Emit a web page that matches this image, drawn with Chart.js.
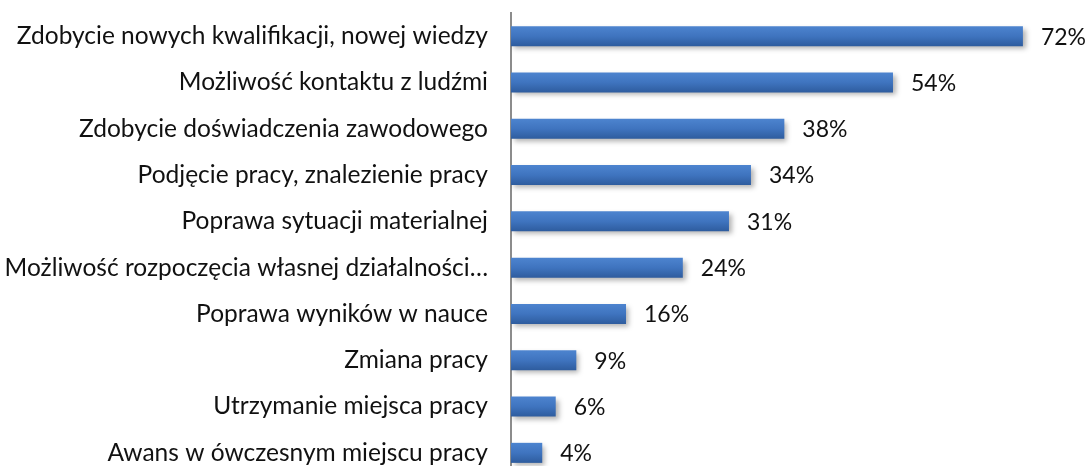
<!DOCTYPE html>
<html><head><meta charset="utf-8">
<script src="https://cdn.jsdelivr.net/npm/chart.js@4/dist/chart.umd.min.js"></script>
<style>
html,body{margin:0;padding:0;background:#fff;overflow:hidden;}
#wrap{width:1088px;height:466px;overflow:hidden;position:relative;}
#c{display:block;}
</style></head>
<body><div id="wrap"><canvas id="c" width="1088" height="476"></canvas></div>
<script>
const categories = [
  "Zdobycie nowych kwalifikacji, nowej wiedzy",
  "Możliwość kontaktu z ludźmi",
  "Zdobycie doświadczenia zawodowego",
  "Podjęcie pracy, znalezienie pracy",
  "Poprawa sytuacji materialnej",
  "Możliwość rozpoczęcia własnej działalności…",
  "Poprawa wyników w nauce",
  "Zmiana pracy",
  "Utrzymanie miejsca pracy",
  "Awans w ówczesnym miejscu pracy"
];
const values = [72.1, 53.8, 38.5, 33.8, 30.7, 24.2, 16.2, 9.2, 6.3, 4.4];
const valueLabels = ["72%", "54%", "38%", "34%", "31%", "24%", "16%", "9%", "6%", "4%"];

const FONT = "Lato, 'Open Sans', sans-serif";

const barStyle = {
  id: 'barStyle',
  beforeDatasetsDraw(chart) {
    const ctx = chart.ctx;
    const meta = chart.getDatasetMeta(0);
    meta.data.forEach(el => {
      const top = el.y - el.height / 2, bot = el.y + el.height / 2;
      const g = ctx.createLinearGradient(0, top, 0, bot);
      g.addColorStop(0, '#4d84cf');
      g.addColorStop(0.5, '#3f74bf');
      g.addColorStop(1, '#2e5c9e');
      el.options = Object.assign({}, el.options, { backgroundColor: g });
    });
    ctx.save();
    ctx.shadowColor = 'rgba(0,0,0,0.3)';
    ctx.shadowOffsetX = 3;
    ctx.shadowOffsetY = 3;
    ctx.shadowBlur = 5;
  },
  afterDatasetsDraw(chart) {
    const ctx = chart.ctx;
    ctx.restore();
    const meta = chart.getDatasetMeta(0);
    ctx.save();
    ctx.font = "23px " + FONT;
    ctx.fillStyle = '#111';
    ctx.textAlign = 'left';
    ctx.textBaseline = 'middle';
    meta.data.forEach((el, i) => {
      ctx.fillText(valueLabels[i], el.x + 18, el.y + 1);
    });
    ctx.restore();
  }
};

new Chart(document.getElementById('c'), {
  type: 'bar',
  data: {
    labels: categories,
    datasets: [{
      data: values,
      backgroundColor: '#3f74bf',
      borderWidth: 0,
      barPercentage: 0.433,
      categoryPercentage: 1
    }]
  },
  options: {
    indexAxis: 'y',
    responsive: false,
    animation: false,
    layout: { padding: { top: 13, bottom: 0, left: 0, right: 9 } },
    plugins: { legend: { display: false }, tooltip: { enabled: false } },
    scales: {
      x: { display: false, min: 0, max: 80 },
      y: {
        grid: { display: false, drawTicks: false },
        border: { display: true, color: '#8c8c8c', width: 2 },
        ticks: { color: '#111', font: { family: FONT, size: 24.5 }, padding: 23, autoSkip: false },
        afterFit(scale) { scale.width = 511; scale.paddingTop = 0; scale.paddingBottom = 0; }
      }
    }
  },
  plugins: [barStyle]
});
</script></body></html>
